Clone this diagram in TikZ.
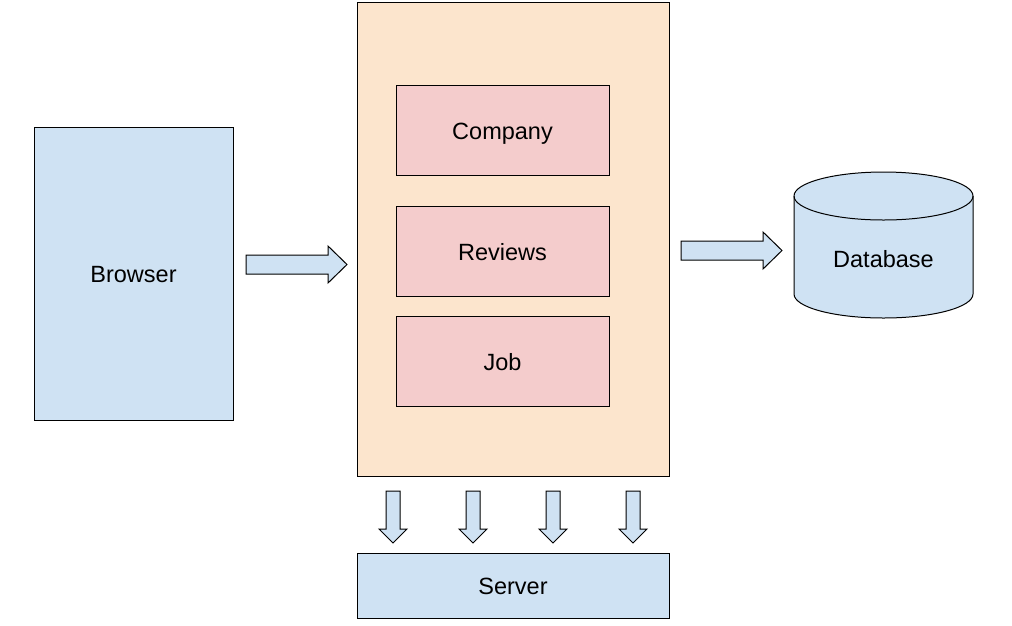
\documentclass[tikz,border=0pt]{standalone}
\usepackage{fontspec}
\setmainfont{Liberation Sans}
\usetikzlibrary{shapes.geometric}
\definecolor{lblue}{HTML}{CFE2F3}
\definecolor{lorange}{HTML}{FCE5CD}
\definecolor{lred}{HTML}{F4CCCC}
\tikzset{
  lbl/.style={inner sep=0pt, font=\fontsize{23.5}{27}\selectfont, text height=18.8pt, text depth=0pt},
  box/.style={draw=black, line width=1pt, lbl},
  bluebox/.style={box, fill=lblue},
  redbox/.style={box, fill=lred},
  fatarrow/.style={draw=black, line width=1pt, fill=lblue, line join=miter},
}
\begin{document}
\begin{tikzpicture}[x=1pt,y=-1pt]
\useasboundingbox (0,0) rectangle (1012,625);
% main container
\node[box, fill=lorange, minimum width=312pt, minimum height=474pt] (app) at (513,239) {};
\node[bluebox, minimum width=199pt, minimum height=293pt] (browser) at (133.5,273.5) {Browser};
\node[redbox, minimum width=213pt, minimum height=90pt] (company) at (502.5,130) {Company};
\node[redbox, minimum width=213pt, minimum height=90pt] (reviews) at (502.5,251) {Reviews};
\node[redbox, minimum width=213pt, minimum height=90pt] (job) at (502.5,361) {Job};
\node[bluebox, minimum width=312pt, minimum height=65pt] (server) at (513,585.5) {Server};
% database cylinder
\coordinate (dbc) at (883.5,196);
\fill[lblue] (794,196) -- (794,294) arc[start angle=180,end angle=360,x radius=89.5pt,y radius=24pt] -- (973,196) arc[start angle=0,end angle=180,x radius=89.5pt,y radius=24pt] -- cycle;
\draw[line width=1pt] (794,196) -- (794,294) arc[start angle=180,end angle=360,x radius=89.5pt,y radius=24pt] -- (973,196);
\draw[line width=1pt] (dbc) ellipse[x radius=89.5pt,y radius=24pt];
\node[lbl] (database) at (883.5,258) {Database};
% right arrows
\draw[fatarrow] (246,255) -- (328,255) -- (328,246) -- (347,264.5) -- (328,283) -- (328,274) -- (246,274) -- cycle;
\draw[fatarrow] (681,241) -- (763,241) -- (763,232) -- (782,250.5) -- (763,269) -- (763,260) -- (681,260) -- cycle;
% down arrows
\foreach \cx in {393,473,553,633}{
  \draw[fatarrow] (\cx-7,491) -- (\cx+7,491) -- (\cx+7,529) -- (\cx+14,529) -- (\cx,543) -- (\cx-14,529) -- (\cx-7,529) -- cycle;
}
\end{tikzpicture}
\end{document}
